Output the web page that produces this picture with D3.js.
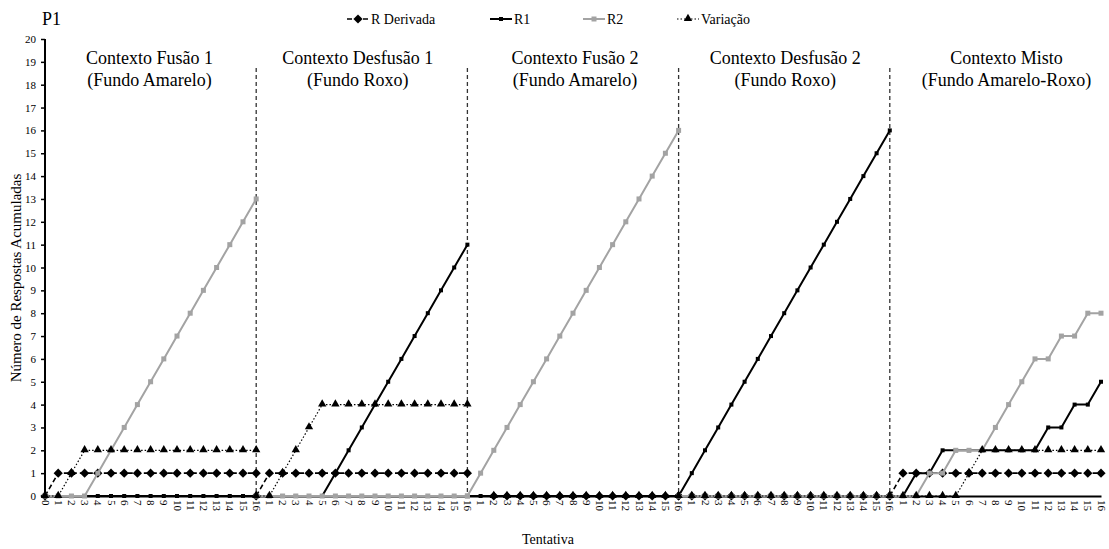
<!DOCTYPE html>
<html>
<head>
<meta charset="utf-8">
<script src="https://cdn.jsdelivr.net/npm/d3@7"></script>
<style>
  html, body { margin: 0; padding: 0; background: #ffffff; }
  svg { display: block; }
  svg text { font-family: "Liberation Serif", "DejaVu Serif", serif; fill: #000; }
</style>
</head>
<body>
<svg id="chart" width="1109" height="549" font-family="Liberation Serif, serif"></svg>
<script>
// ---- data -------------------------------------------------------------
const participant = "P1";
const panelTitles = [
  ["Contexto Fusão 1", "(Fundo Amarelo)"],
  ["Contexto Desfusão 1", "(Fundo Roxo)"],
  ["Contexto Fusão 2", "(Fundo Amarelo)"],
  ["Contexto Desfusão 2", "(Fundo Roxo)"],
  ["Contexto Misto", "(Fundo Amarelo-Roxo)"]
];
// trial labels: the first context starts at 0, the others continue from the previous 16
const firstTrialLabels = ["0","1","2","3","4","5","6","7","8","9","10","11","12","13","14","15","16"];
const trialLabels = ["1","2","3","4","5","6","7","8","9","10","11","12","13","14","15","16"];
const yTickValues = [0,1,2,3,4,5,6,7,8,9,10,11,12,13,14,15,16,17,18,19,20];
const seriesNames = ["R Derivada", "R1", "R2", "Variação"];

// cumulative responses per context, trial 0..16 (null = no point)
const rDerivada = [
  [0,1,1,1,1,1,1,1,1,1,1,1,1,1,1,1,1],
  [0,1,1,1,1,1,1,1,1,1,1,1,1,1,1,1,1],
  [null,null,0,0,0,0,0,0,0,0,0,0,0,0,0,0,0],
  [0,0,0,0,0,0,0,0,0,0,0,0,0,0,0,0,0],
  [0,1,1,1,1,1,1,1,1,1,1,1,1,1,1,1,1]
];
const r1 = [
  [0,0,0,0,0,0,0,0,0,0,0,0,0,0,0,0,0],
  [0,0,0,0,0,0,1,2,3,4,5,6,7,8,9,10,11],
  [0,0,0,0,0,0,0,0,0,0,0,0,0,0,0,0,0],
  [0,1,2,3,4,5,6,7,8,9,10,11,12,13,14,15,16],
  [0,0,1,1,2,2,2,2,2,2,2,2,3,3,4,4,5]
];
const r2 = [
  [0,0,0,0,1,2,3,4,5,6,7,8,9,10,11,12,13],
  [0,0,0,0,0,0,0,0,0,0,0,0,0,0,0,0,0],
  [0,1,2,3,4,5,6,7,8,9,10,11,12,13,14,15,16],
  [0,0,0,0,0,0,0,0,0,0,0,0,0,0,0,0,0],
  [0,0,0,1,1,2,2,2,3,4,5,6,6,7,7,8,8]
];
const variacao = [
  [0,0,1,2,2,2,2,2,2,2,2,2,2,2,2,2,2],
  [0,0,1,2,3,4,4,4,4,4,4,4,4,4,4,4,4],
  [null,null,0,0,0,0,0,0,0,0,0,0,0,0,0,0,0],
  [null,0,0,0,0,0,0,0,0,0,0,0,0,0,0,0,0],
  [0,0,0,0,0,0,1,2,2,2,2,2,2,2,2,2,2]
];

// ---- layout -----------------------------------------------------------
const FONT = '"Liberation Serif", "DejaVu Serif", serif';
const svg = d3.select("#chart");
const plot = { left: 45, right: 1101, top: 39, bottom: 496 };
const trialsPerPanel = 16;
const nPanels = panelTitles.length;

// category axis: one slot per trial, boundaries shared between contexts
const categoryLabels = firstTrialLabels.concat(...d3.range(1, nPanels).map(() => trialLabels));
const x = d3.scalePoint()
  .domain(d3.range(categoryLabels.length))
  .range([plot.left, plot.right])
  .padding(0);
const y = d3.scaleLinear().domain([0, 20]).range([plot.bottom, plot.top]);

const gx = p => i => x(p * trialsPerPanel + i);

const grey = "#a3a3a3";

// ---- context separators ----
for (let p = 1; p < nPanels; p++) {
  const xv = x(p * trialsPerPanel);
  svg.append("line")
    .attr("x1", xv).attr("x2", xv)
    .attr("y1", 68).attr("y2", plot.bottom)
    .attr("stroke", "#333").attr("stroke-width", 1.3)
    .attr("stroke-dasharray", "4,3");
}

// ---- y axis ----
const yAxis = d3.axisLeft(y).tickValues(yTickValues).tickSize(4).tickPadding(5)
  .tickFormat(d3.format("d"));
const gY = svg.append("g").attr("transform", `translate(${plot.left},0)`).call(yAxis)
  .attr("font-family", FONT).attr("font-size", 11);
gY.select(".domain").attr("stroke", "#000").attr("stroke-width", 2).attr("d", `M0,${plot.bottom}V${plot.top}`);
gY.selectAll(".tick line").attr("stroke", "#000").attr("stroke-width", 1.5);
gY.selectAll(".tick text").attr("fill", "#000");

// ---- x axis ----
const xAxis = d3.axisBottom(x).tickSize(0).tickFormat(i => categoryLabels[i]);
const gX = svg.append("g").attr("transform", `translate(0,${plot.bottom})`).call(xAxis)
  .attr("font-family", FONT).attr("font-size", 11);
gX.select(".domain").attr("stroke", "#000").attr("stroke-width", 2);
gX.selectAll(".tick text")
  .attr("fill", "#000")
  .attr("text-anchor", "start")
  .attr("transform", "rotate(90)")
  .attr("x", 4).attr("y", 0).attr("dy", "0.35em");

// ---- series ----
const diamondPath = "M0,-4.6L4.6,0L0,4.6L-4.6,0Z";
const triangle = d3.symbol().type(d3.symbolTriangle).size(30);

function addMarker(g, style, cx, cy) {
  if (style.marker === "diamond") {
    g.append("path").attr("d", diamondPath).attr("transform", `translate(${cx},${cy})`).attr("fill", "#000");
  } else if (style.marker === "triangle") {
    g.append("path").attr("d", triangle()).attr("transform", `translate(${cx},${cy - 0.5})`).attr("fill", "#000");
  } else {
    const s = style.size;
    g.append("rect").attr("x", cx - s / 2).attr("y", cy - s / 2)
      .attr("width", s).attr("height", s).attr("fill", style.stroke);
  }
}

function drawSeries(values, style) {
  values.forEach((panelVals, p) => {
    const px = gx(p);
    const pts = panelVals.map((v, i) => ({ i, v })).filter(d => d.v != null);
    const line = d3.line().x(d => px(d.i)).y(d => y(d.v));
    svg.append("path")
      .datum(pts)
      .attr("d", line)
      .attr("fill", "none")
      .attr("stroke", style.stroke)
      .attr("stroke-width", style.width)
      .attr("stroke-dasharray", style.dash || null);
    const mk = svg.append("g");
    pts.forEach(d => addMarker(mk, style, px(d.i), y(d.v)));
  });
}

const styles = [
  { stroke: "#000", width: 1.6, dash: "5,3", marker: "diamond" },
  { stroke: "#000", width: 2, marker: "square", size: 4 },
  { stroke: grey, width: 2, marker: "square", size: 5 },
  { stroke: "#000", width: 1.2, dash: "1.5,2", marker: "triangle" }
];
[rDerivada, r1, r2, variacao].forEach((vals, k) => drawSeries(vals, styles[k]));

// ---- panel titles ----
const titleShift = [-1, -4, 2, 1, 11];
panelTitles.forEach((t, p) => {
  const cx = (x(p * trialsPerPanel) + x((p + 1) * trialsPerPanel)) / 2 + titleShift[p];
  svg.append("text").attr("x", cx).attr("y", 64).attr("text-anchor", "middle")
    .attr("font-family", FONT).attr("font-size", 18).text(t[0]);
  svg.append("text").attr("x", cx).attr("y", 86).attr("text-anchor", "middle")
    .attr("font-family", FONT).attr("font-size", 18).text(t[1]);
});

// ---- participant label ----
svg.append("text").attr("x", 42).attr("y", 25)
  .attr("font-family", FONT).attr("font-size", 18).text(participant);

// ---- axis titles ----
svg.append("text")
  .attr("transform", "translate(21,278) rotate(-90)")
  .attr("text-anchor", "middle")
  .attr("font-family", FONT).attr("font-size", 15)
  .text("Número de Respostas Acumuladas");
svg.append("text").attr("x", 548).attr("y", 544).attr("text-anchor", "middle")
  .attr("font-family", FONT).attr("font-size", 14).text("Tentativa");

// ---- legend ----
const legendX = [347, 490, 583, 677];
const ly = 19;
seriesNames.forEach((name, k) => {
  const st = styles[k];
  const x0 = legendX[k];
  const g = svg.append("g");
  g.append("line").attr("x1", x0).attr("x2", x0 + 22).attr("y1", ly).attr("y2", ly)
    .attr("stroke", st.stroke).attr("stroke-width", st.width).attr("stroke-dasharray", st.dash || null);
  addMarker(g, st, x0 + 11, ly);
  g.append("text").attr("x", x0 + 24).attr("y", ly + 5)
    .attr("font-family", FONT).attr("font-size", 14).text(name);
});
</script>
</body>
</html>
